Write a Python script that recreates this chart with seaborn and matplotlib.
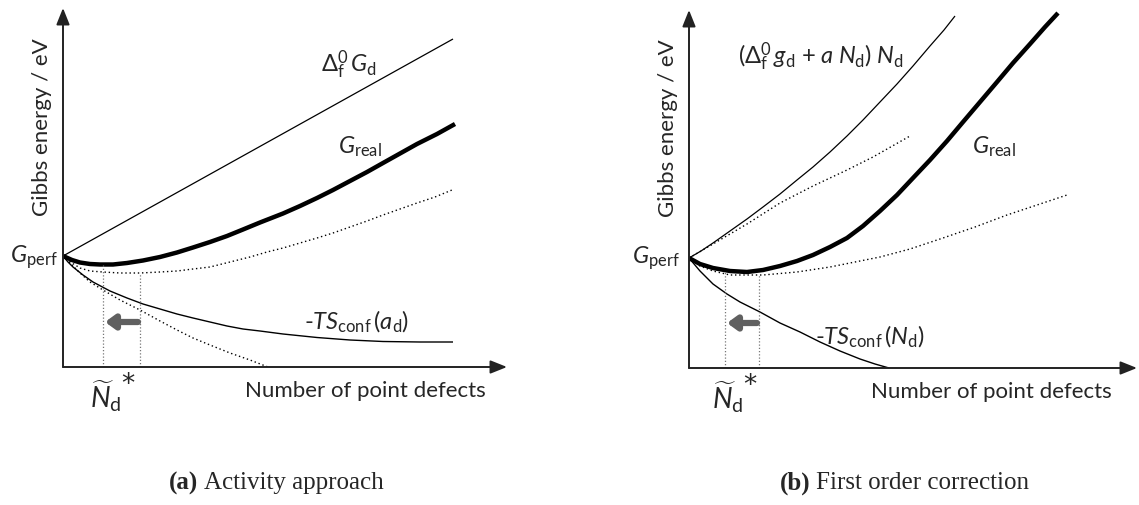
import numpy as np
import pandas as pd
import matplotlib
matplotlib.use("Agg")
import matplotlib.pyplot as plt
import seaborn as sns

# ---- panel (a): activity approach  (x: number of defects, y: Gibbs energy, arbitrary units)
a_form_x = [0, 390]
a_form_y = [111, 328]

a_real_x = [0, 9, 17, 27, 37, 50, 64, 80, 97, 114, 130, 147, 164, 180, 197, 220, 237, 254,
            270, 287, 304, 320, 337, 354, 374, 392]
a_real_y = [111, 107, 104.5, 103, 102.5, 102.5, 104, 106.5, 110, 114.5, 119.5, 125, 131, 137.5,
            144.5, 153.5, 161, 169, 177, 186, 195, 204, 213.5, 223, 233, 243]

a_ideal_x = [0, 9, 17, 27, 40, 57, 77, 97, 114, 130, 147, 167, 187, 204, 220, 237, 254, 270,
             287, 304, 320, 337, 354, 372, 389]
a_ideal_y = [111, 104, 99, 96, 95, 94, 94, 95, 96, 98, 100, 105, 110, 115, 119, 124, 129, 134,
             140, 146, 152, 158, 164, 170, 177]

a_ts_x = [0, 5, 10, 20, 30, 47, 64, 80, 97, 114, 130, 147, 164, 180, 197, 220, 254, 287, 320, 357, 390]
a_ts_y = [111, 105, 100, 92, 85, 76, 69, 63, 58, 53, 49, 45, 41, 38, 36, 33, 29.5, 27, 25.5, 25, 25]

a_tsid_x = [0, 7, 17, 27, 40, 57, 77, 97, 114, 130, 147, 167, 187, 205]
a_tsid_y = [111, 104, 94, 85, 77, 67, 57, 46, 37, 29, 22, 14, 7, 0]

a_nstar = [40, 77]          # minimum positions (real, ideal)
a_nstar_g = [103, 94]
a_arrow_y = 45

# ---- panel (b): first order correction
b_form_x = [0, 12, 24, 41, 58, 74, 91, 108, 124, 141, 158, 174, 191, 208, 224, 241, 255, 266]
b_form_y = [110, 117, 125, 137, 149, 161, 174, 188, 201, 216, 232, 248, 266, 284, 302, 322, 338, 352]

b_real_x = [0, 11, 24, 41, 58, 74, 91, 108, 124, 141, 158, 174, 191, 208, 224, 241, 258, 274,
            291, 308, 324, 341, 356, 369]
b_real_y = [110, 104, 100, 97, 96, 98, 102, 107, 113, 121, 130, 142, 157, 173, 190, 208, 227,
            246, 266, 286, 305, 324, 341, 355]

b_lin_x = [0, 24, 58, 91, 124, 158, 184, 221]
b_lin_y = [110, 124, 144, 165, 182, 198, 211, 232]

b_ideal_x = [0, 11, 24, 41, 74, 108, 141, 191, 221, 254, 286, 318, 348, 378]
b_ideal_y = [110, 102, 97, 93, 93, 96, 101, 111, 119, 130, 141, 153, 163, 173]

b_ts_x = [0, 11, 24, 38, 51, 71, 91, 111, 131, 151, 171, 186, 200]
b_ts_y = [110, 97, 84, 74, 66, 56, 45, 36, 26, 17, 9, 4, 0]

b_nstar = [36, 70]
b_nstar_g = [96, 93]
b_arrow_y = 45

sns.set_style("white")
plt.rcParams["font.family"] = ["Lato", "DejaVu Sans"]
plt.rcParams["mathtext.fontset"] = "custom"
plt.rcParams["mathtext.rm"] = "Lato"
plt.rcParams["mathtext.it"] = "Lato:italic"
plt.rcParams["mathtext.bf"] = "Lato:bold"

W, H = 1139, 505
fig = plt.figure(figsize=(W / 100, H / 100), dpi=100)

fs = 16
dot = (0, (1, 2.0))


def make_axes(ox, oy, xr, ytop):
    ax = fig.add_axes([ox / W, (H - oy) / H, (xr - ox) / W, (oy - ytop) / H])
    ax.set_xlim(0, xr - ox)
    ax.set_ylim(0, oy - ytop)
    for s in ax.spines.values():
        s.set_visible(False)
    ax.set_xticks([])
    ax.set_yticks([])
    ax.patch.set_alpha(0)
    # axis arrows
    arr = dict(arrowstyle="-|>,head_length=1.0,head_width=0.4", lw=1.4, color="#222222",
               shrinkA=0, shrinkB=0)
    ax.annotate("", xy=(1, 0), xytext=(0, 0), xycoords="axes fraction", arrowprops=arr)
    ax.annotate("", xy=(0, 1), xytext=(0, 0), xycoords="axes fraction", arrowprops=arr)
    return ax


def line(ax, x, y, lw, ls="-", color="black"):
    sns.lineplot(x=x, y=y, ax=ax, color=color, lw=lw, linestyle=ls, sort=False,
                 estimator=None, legend=False, solid_capstyle="butt")


def common(ax, nstar, nstar_g, arrow_y, gx):
    for xv, gv in zip(nstar, nstar_g):
        ax.plot([xv, xv], [0, gv], color="#777777", lw=0.9, linestyle=(0, (1, 1.6)))
    ax.annotate("", xy=(nstar[0] + 2, arrow_y), xytext=(nstar[1] - 2, arrow_y),
                arrowprops=dict(arrowstyle="-|>,head_length=0.55,head_width=0.4", lw=4.5,
                                color="#606060", shrinkA=0, shrinkB=0))
    ax.text(gx, 110, r"$G_\mathrm{perf}$", ha="right", va="center", fontsize=fs + 1)
    ax.text(nstar[0] + 3, -29, r"$\widetilde{N}_\mathrm{d}$", ha="center", va="center",
            fontsize=fs + 4)
    ax.text(nstar[0] + 18, -18, "*", ha="left", va="center", fontsize=fs + 3,
            family="DejaVu Sans")
    ax.text(302, -24, "Number of point defects", ha="center", va="center", fontsize=fs)
    ax.text(-21, 240, "Gibbs energy / eV", ha="center", va="center", rotation=90, fontsize=fs)


# panel (a)
ax1 = make_axes(63, 367, 507, 8)
line(ax1, a_tsid_x, a_tsid_y, 1.0, dot)
line(ax1, a_ideal_x, a_ideal_y, 1.0, dot)
line(ax1, a_form_x, a_form_y, 0.9)
line(ax1, a_ts_x, a_ts_y, 1.0)
line(ax1, a_real_x, a_real_y, 3.2)
common(ax1, a_nstar, a_nstar_g, a_arrow_y, -5)
ax1.text(286, 302, r"$\Delta_\mathrm{f}^{0}\,G_\mathrm{d}$", ha="center", va="center", fontsize=fs + 1)
ax1.text(297, 220, r"$G_\mathrm{real}$", ha="center", va="center", fontsize=fs + 1)
ax1.text(294, 45, r"-$TS_\mathrm{conf}\,(a_\mathrm{d})$", ha="center", va="center", fontsize=fs + 1)

# panel (b)
ax2 = make_axes(689, 368, 1137, 10)
line(ax2, b_ideal_x, b_ideal_y, 1.0, dot)
line(ax2, b_lin_x, b_lin_y, 1.0, dot)
line(ax2, b_form_x, b_form_y, 0.9)
line(ax2, b_ts_x, b_ts_y, 1.0)
line(ax2, b_real_x, b_real_y, 3.2)
common(ax2, b_nstar, b_nstar_g, b_arrow_y, -9)
ax2.text(132, 311, r"$(\Delta_\mathrm{f}^{0}\,g_\mathrm{d}$ + $a\;N_\mathrm{d})\;N_\mathrm{d}$",
         ha="center", va="center", fontsize=fs + 1)
ax2.text(305, 221, r"$G_\mathrm{real}$", ha="center", va="center", fontsize=fs + 1)
ax2.text(181, 31, r"-$TS_\mathrm{conf}\,(N_\mathrm{d})$", ha="center", va="center", fontsize=fs + 1)

# captions
cap = ["Liberation Serif", "DejaVu Serif"]
for x0, tag, txt in [(169, "(a)", "Activity approach"), (780, "(b)", "First order correction")]:
    t = fig.text(x0 / W, 1 - 483 / H, tag, family=cap, weight="bold", fontsize=18, va="center")
    fig.add_artist(plt.Annotation(txt, xy=(1, 0.5), xycoords=t, xytext=(4, 0),
                                  textcoords="offset points", va="center", ha="left",
                                  family=cap, fontsize=18))

fig.savefig("out.png", dpi=100)
